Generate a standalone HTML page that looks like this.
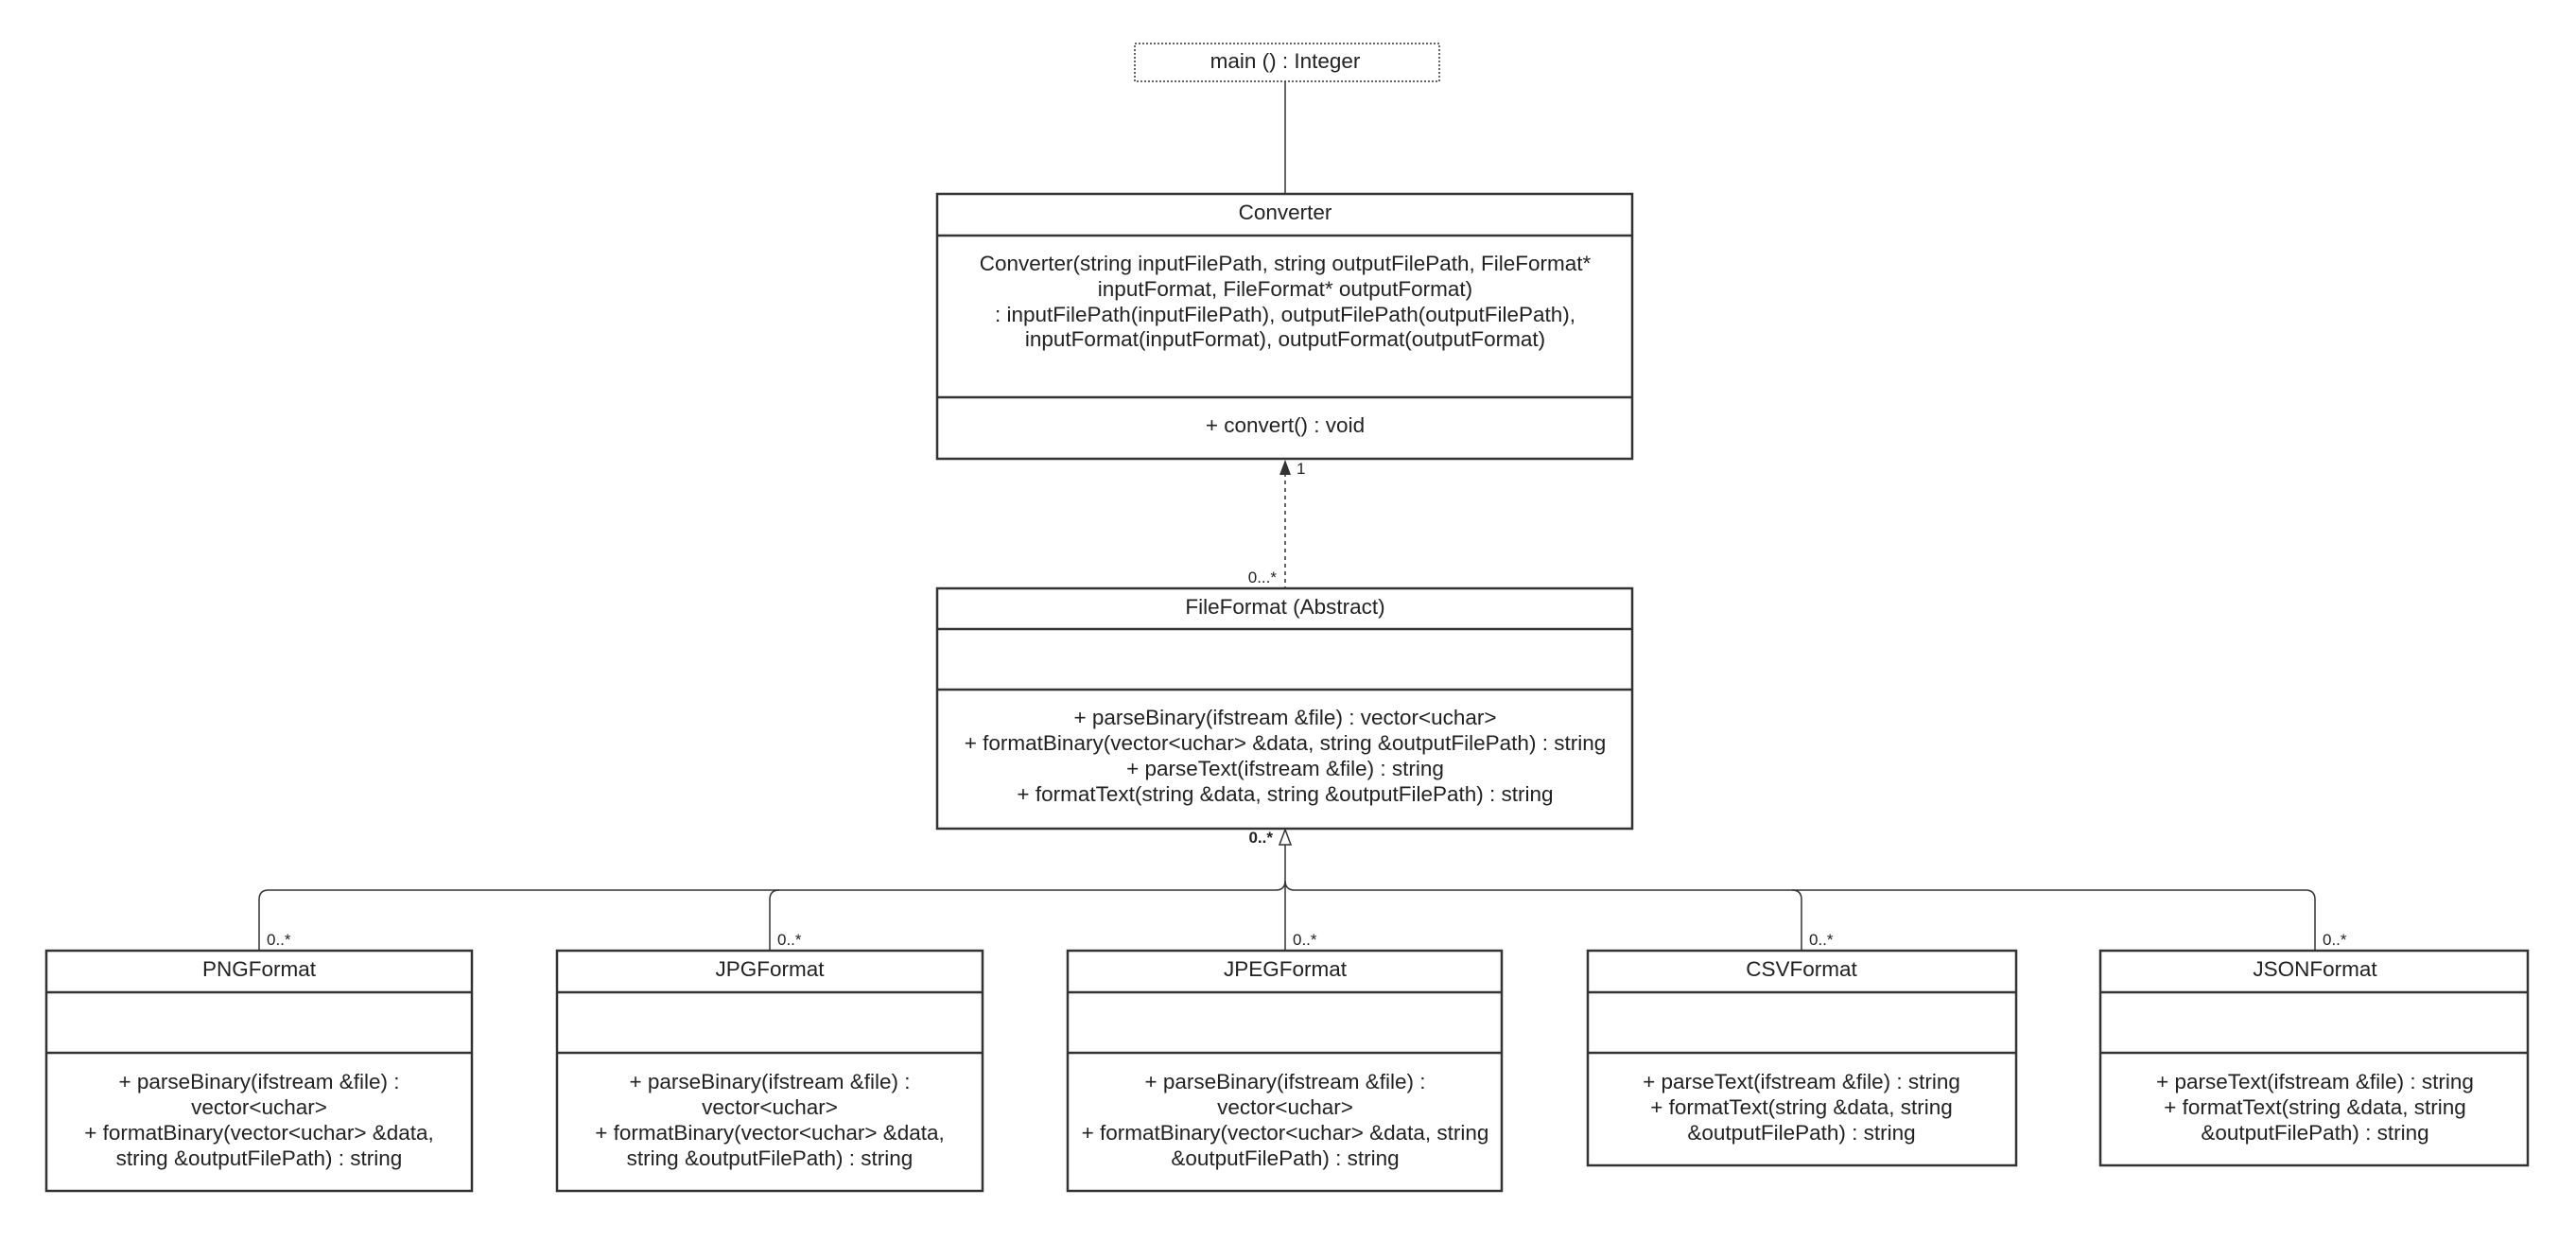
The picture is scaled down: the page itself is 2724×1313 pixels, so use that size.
<!DOCTYPE html>
<html><head><meta charset="utf-8"><style>
html,body{margin:0;padding:0;background:#fff}
svg{display:block}
text{font-family:"Liberation Sans",Arial,sans-serif;fill:#222}
</style></head><body>
<svg width="2724" height="1313" viewBox="0 0 2724 1313" xmlns="http://www.w3.org/2000/svg">
<g fill="none" stroke="#333">
<rect x="1200" y="46" width="322" height="40" stroke-dasharray="2,2" stroke-width="1.5"/>
<line x1="1359" y1="86" x2="1359" y2="205" stroke-width="1.5"/>
<rect x="991" y="205" width="735" height="280" stroke-width="2.5"/>
<line x1="991" y1="249" x2="1726" y2="249" stroke-width="2.5"/>
<line x1="991" y1="420" x2="1726" y2="420" stroke-width="2.5"/>
<line x1="1359" y1="500" x2="1359" y2="622" stroke-dasharray="4,4" stroke-width="1.5"/>
<rect x="991" y="622" width="735" height="254" stroke-width="2.5"/>
<line x1="991" y1="665" x2="1726" y2="665" stroke-width="2.5"/>
<line x1="991" y1="729" x2="1726" y2="729" stroke-width="2.5"/>
<line x1="1359" y1="893" x2="1359" y2="1005" stroke-width="1.5"/>
<path d="M274 1005 V951 Q274 941 284 941 H1349 Q1359 941 1359 931 Q1359 941 1369 941 H2438 Q2448 941 2448 951 V1005" stroke-width="1.5"/>
<path d="M814 1005 V951 Q814 941 824 941" stroke-width="1.5"/>
<path d="M1905 1005 V951 Q1905 941 1895 941" stroke-width="1.5"/>
<rect x="49" y="1005" width="450" height="254" stroke-width="2.5"/>
<line x1="49" y1="1049" x2="499" y2="1049" stroke-width="2.5"/>
<line x1="49" y1="1113" x2="499" y2="1113" stroke-width="2.5"/>
<rect x="589" y="1005" width="450" height="254" stroke-width="2.5"/>
<line x1="589" y1="1049" x2="1039" y2="1049" stroke-width="2.5"/>
<line x1="589" y1="1113" x2="1039" y2="1113" stroke-width="2.5"/>
<rect x="1129" y="1005" width="459" height="254" stroke-width="2.5"/>
<line x1="1129" y1="1049" x2="1588" y2="1049" stroke-width="2.5"/>
<line x1="1129" y1="1113" x2="1588" y2="1113" stroke-width="2.5"/>
<rect x="1679" y="1005" width="453" height="227" stroke-width="2.5"/>
<line x1="1679" y1="1049" x2="2132" y2="1049" stroke-width="2.5"/>
<line x1="1679" y1="1113" x2="2132" y2="1113" stroke-width="2.5"/>
<rect x="2221" y="1005" width="452" height="227" stroke-width="2.5"/>
<line x1="2221" y1="1049" x2="2673" y2="1049" stroke-width="2.5"/>
<line x1="2221" y1="1113" x2="2673" y2="1113" stroke-width="2.5"/>
</g>
<polygon points="1359,486 1353,502 1365,502" fill="#333"/>
<polygon points="1359,877 1353,893 1365,893" fill="#fff" stroke="#333" stroke-width="1.5"/>
<g font-size="22.5" text-anchor="middle">
<text x="1359" y="72">main () : Integer</text>
<text x="1359" y="232">Converter</text>
<text x="1359" y="286">Converter(string inputFilePath, string outputFilePath, FileFormat*</text>
<text x="1359" y="313">inputFormat, FileFormat* outputFormat)</text>
<text x="1359" y="340">: inputFilePath(inputFilePath), outputFilePath(outputFilePath),</text>
<text x="1359" y="366">inputFormat(inputFormat), outputFormat(outputFormat)</text>
<text x="1359" y="457">+ convert() : void</text>
<text x="1359" y="649">FileFormat (Abstract)</text>
<text x="1359" y="766">+ parseBinary(ifstream &amp;file) : vector&lt;uchar&gt;</text>
<text x="1359" y="793">+ formatBinary(vector&lt;uchar&gt; &amp;data, string &amp;outputFilePath) : string</text>
<text x="1359" y="820">+ parseText(ifstream &amp;file) : string</text>
<text x="1359" y="847">+ formatText(string &amp;data, string &amp;outputFilePath) : string</text>

<text x="274" y="1032">PNGFormat</text>
<text x="274" y="1151">+ parseBinary(ifstream &amp;file) :</text>
<text x="274" y="1178">vector&lt;uchar&gt;</text>
<text x="274" y="1205">+ formatBinary(vector&lt;uchar&gt; &amp;data,</text>
<text x="274" y="1232">string &amp;outputFilePath) : string</text>

<text x="814" y="1032">JPGFormat</text>
<text x="814" y="1151">+ parseBinary(ifstream &amp;file) :</text>
<text x="814" y="1178">vector&lt;uchar&gt;</text>
<text x="814" y="1205">+ formatBinary(vector&lt;uchar&gt; &amp;data,</text>
<text x="814" y="1232">string &amp;outputFilePath) : string</text>

<text x="1359" y="1032">JPEGFormat</text>
<text x="1359" y="1151">+ parseBinary(ifstream &amp;file) :</text>
<text x="1359" y="1178">vector&lt;uchar&gt;</text>
<text x="1359" y="1205">+ formatBinary(vector&lt;uchar&gt; &amp;data, string</text>
<text x="1359" y="1232">&amp;outputFilePath) : string</text>

<text x="1905" y="1032">CSVFormat</text>
<text x="1905" y="1151">+ parseText(ifstream &amp;file) : string</text>
<text x="1905" y="1178">+ formatText(string &amp;data, string</text>
<text x="1905" y="1205">&amp;outputFilePath) : string</text>

<text x="2448" y="1032">JSONFormat</text>
<text x="2448" y="1151">+ parseText(ifstream &amp;file) : string</text>
<text x="2448" y="1178">+ formatText(string &amp;data, string</text>
<text x="2448" y="1205">&amp;outputFilePath) : string</text>
</g>
<g font-size="17">
<text x="1371" y="501">1</text>
<text x="1350" y="616" text-anchor="end">0...*</text>
<text x="1346" y="891" text-anchor="end" font-weight="bold">0..*</text>
<text x="282" y="999">0..*</text>
<text x="822" y="999">0..*</text>
<text x="1367" y="999">0..*</text>
<text x="1913" y="999">0..*</text>
<text x="2456" y="999">0..*</text>
</g>
</svg>
</body></html>
